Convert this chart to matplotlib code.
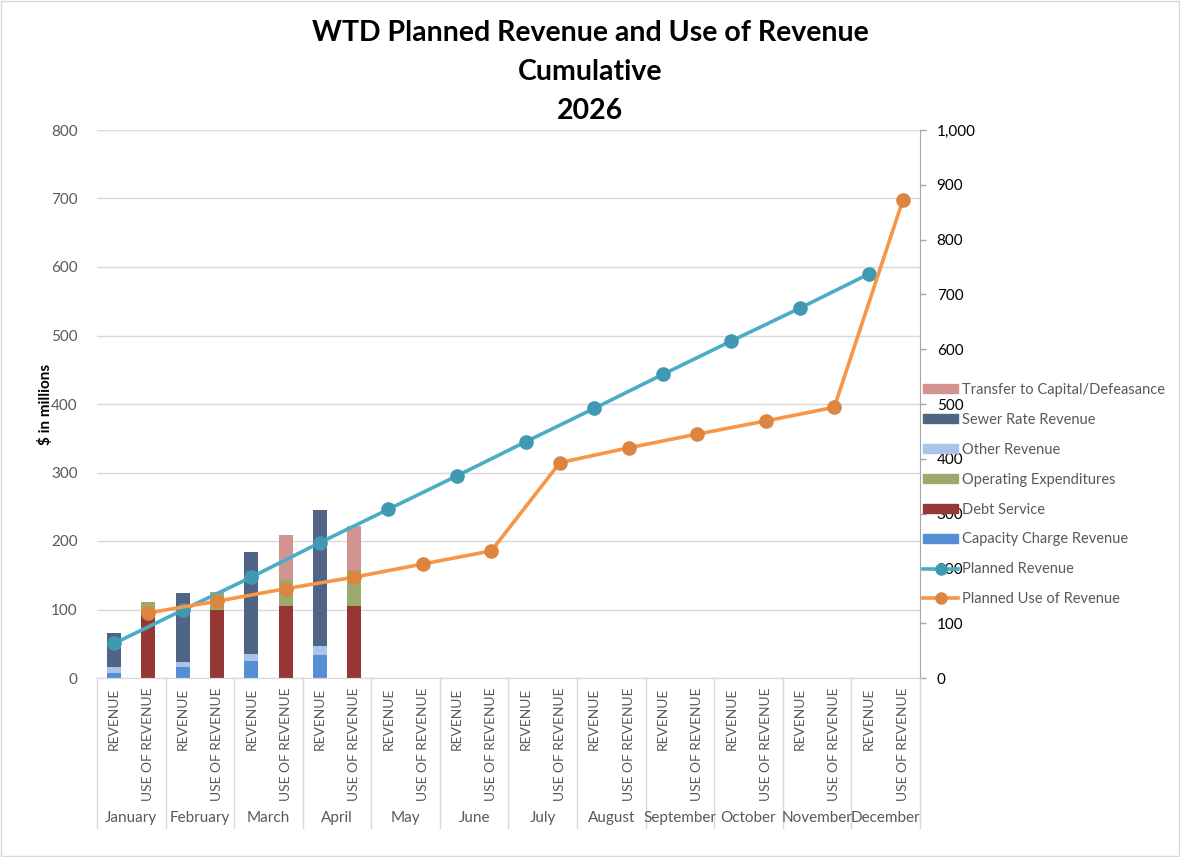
import matplotlib.pyplot as plt
import matplotlib.patches as mpatches
from matplotlib.lines import Line2D
from matplotlib.ticker import FuncFormatter, MultipleLocator

plt.rcParams["font.family"] = ["Lato", "DejaVu Sans"]

months = ["January", "February", "March", "April", "May", "June", "July",
          "August", "September", "October", "November", "December"]
sub_labels = ["REVENUE", "USE OF REVENUE"]

# stacked bars ($ millions), only Jan-Apr have actuals
capacity_rev = [8, 16.5, 25, 33]
other_rev = [8, 7.5, 10.5, 14]
sewer_rev = [49, 99.5, 148.5, 198]
debt_use = [96, 100, 105.5, 105.5]
opex_use = [15, 25.5, 38.5, 51.5]
transfer_use = [0, 0, 65, 65]

# cumulative lines (secondary axis)
planned_revenue = [63, 124, 184, 247, 308, 369, 431, 492, 554, 615, 675, 737]
planned_use = [119, 140, 163, 184, 208, 232, 393, 420, 445, 469, 494, 872]

c_capacity = "#558ED5"
c_other = "#A9C4E8"
c_sewer = "#506585"
c_debt = "#953735"
c_opex = "#9BAB6B"
c_transfer = "#D29393"
c_blue = "#4BACC6"
c_blue_mk = "#4099B3"
c_orange = "#F79646"
c_orange_mk = "#DD8540"
txt = "#595959"

fig = plt.figure(figsize=(11.8, 8.57), dpi=100)
fig.patches.append(mpatches.Rectangle((0.001, 0.001), 0.998, 0.998, transform=fig.transFigure,
                                      fill=False, edgecolor="#D9D9D9", lw=1))
ax = fig.add_axes([97 / 1180, 179 / 857, 823 / 1180, 548 / 857])
ax2 = ax.twinx()

rev_x = [2 * i for i in range(len(capacity_rev))]
use_x = [2 * i + 1 for i in range(len(debt_use))]
w = 0.41

bottom = [0] * len(rev_x)
for vals, col in [(capacity_rev, c_capacity), (other_rev, c_other), (sewer_rev, c_sewer)]:
    ax.bar(rev_x, vals, w, bottom=bottom, color=col)
    bottom = [b + v for b, v in zip(bottom, vals)]

bottom = [0] * len(use_x)
for vals, col in [(debt_use, c_debt), (opex_use, c_opex), (transfer_use, c_transfer)]:
    ax.bar(use_x, vals, w, bottom=bottom, color=col)
    bottom = [b + v for b, v in zip(bottom, vals)]

line_x_rev = [2 * i for i in range(len(months))]
line_x_use = [2 * i + 1 for i in range(len(months))]
ax2.plot(line_x_rev, planned_revenue, color=c_blue, lw=2.6, marker="o", ms=9.5,
         mfc=c_blue_mk, mec=c_blue_mk)
ax2.plot(line_x_use, planned_use, color=c_orange, lw=2.6, marker="o", ms=9.5,
         mfc=c_orange_mk, mec=c_orange_mk)

ax.set_xlim(-0.5, 2 * len(months) - 0.5)
ax.set_ylim(0, 800)
ax.yaxis.set_major_locator(MultipleLocator(100))
ax.grid(axis="y", color="#D9D9D9", lw=1)
ax.set_axisbelow(True)
ax2.set_ylim(0, 1000)
ax2.yaxis.set_major_locator(MultipleLocator(100))
ax2.yaxis.set_major_formatter(FuncFormatter(lambda v, p: f"{v:,.0f}"))

for a in (ax, ax2):
    for s in ("top", "left", "right"):
        a.spines[s].set_visible(False)
    a.spines["bottom"].set_color("#D9D9D9")
ax2.spines["right"].set_visible(True)
ax2.spines["right"].set_color("#A6A6A6")

ax.tick_params(axis="y", length=0, pad=14, labelsize=11, labelcolor=txt)
ax2.tick_params(axis="y", length=4, width=1, color="#A6A6A6", pad=8, labelsize=11, labelcolor="black")
ax.set_xticks([])

# two-level category axis
tr = ax.get_xaxis_transform()
for i, m in enumerate(months):
    for j, lab in enumerate(sub_labels):
        ax.text(2 * i + j, -0.018, lab, transform=tr, rotation=90, ha="center", va="top",
                fontsize=10, color=txt)
    ax.text(2 * i + 0.5, -0.256, m, transform=tr, ha="center", va="center", fontsize=11, color=txt)
for k in range(len(months) + 1):
    ax.add_line(Line2D([k * 2 - 0.5, k * 2 - 0.5], [0, -0.274], transform=tr, color="#D9D9D9",
                       lw=1, clip_on=False))

fig.text(0.5, 1 - 72 / 857, "WTD Planned Revenue and Use of Revenue\nCumulative\n2026",
         ha="center", va="center", fontsize=20.5, fontweight="bold", linespacing=1.6)
fig.text(45 / 1180, 1 - 404 / 857, "$ in millions", rotation=90, ha="center", va="center",
         fontsize=11, fontweight="bold")

handles = [
    mpatches.Patch(color=c_transfer, label="Transfer to Capital/Defeasance"),
    mpatches.Patch(color=c_sewer, label="Sewer Rate Revenue"),
    mpatches.Patch(color=c_other, label="Other Revenue"),
    mpatches.Patch(color=c_opex, label="Operating Expenditures"),
    mpatches.Patch(color=c_debt, label="Debt Service"),
    mpatches.Patch(color=c_capacity, label="Capacity Charge Revenue"),
    Line2D([], [], color=c_blue, lw=2.6, marker="o", ms=8, mfc=c_blue_mk, mec=c_blue_mk,
           label="Planned Revenue"),
    Line2D([], [], color=c_orange, lw=2.6, marker="o", ms=8, mfc=c_orange_mk, mec=c_orange_mk,
           label="Planned Use of Revenue"),
]
leg = fig.legend(handles=handles, loc="upper left", bbox_to_anchor=(923 / 1180, 1 - 383 / 857),
                 frameon=False, fontsize=10.5, handlelength=2.4, handleheight=0.55,
                 handletextpad=0.3, labelspacing=1.09, borderpad=0, borderaxespad=0)
for t in leg.get_texts():
    t.set_color(txt)

fig.savefig("out.png", dpi=100)
